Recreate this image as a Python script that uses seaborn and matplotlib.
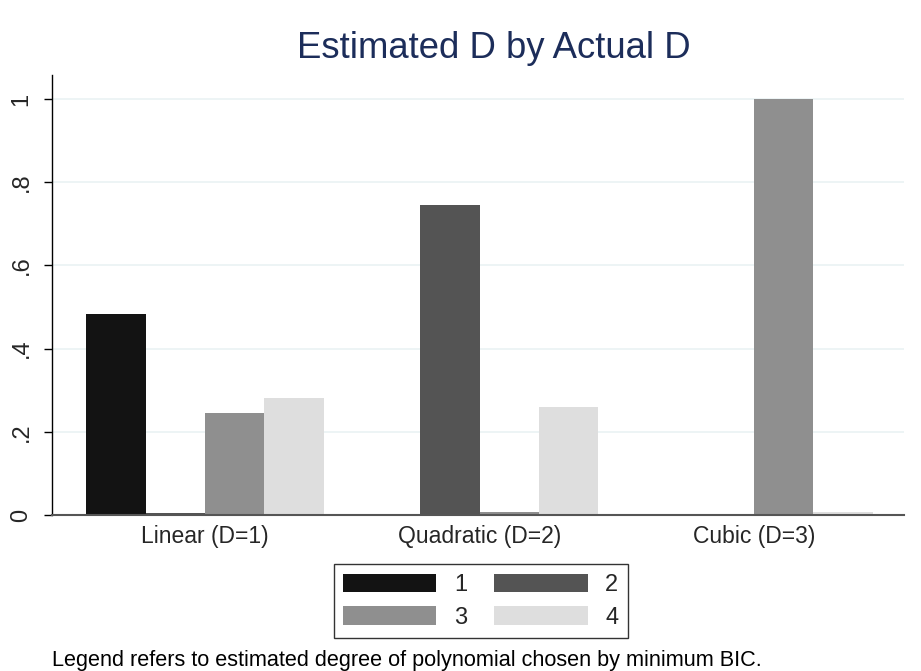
import matplotlib
matplotlib.use("Agg")
import matplotlib.pyplot as plt
import seaborn as sns
import pandas as pd
from matplotlib.patches import Patch

categories = ["Linear (D=1)", "Quadratic (D=2)", "Cubic (D=3)"]
est_degrees = ["1", "2", "3", "4"]
share_1 = [0.483, 0.0, 0.0]
share_2 = [0.004, 0.745, 0.0]
share_3 = [0.245, 0.006, 1.0]
share_4 = [0.281, 0.260, 0.006]
yticks = [0, 0.2, 0.4, 0.6, 0.8, 1.0]
ytick_labels = ["0", ".2", ".4", ".6", ".8", "1"]

rows = []
for deg, vals in zip(est_degrees, [share_1, share_2, share_3, share_4]):
    for cat, v in zip(categories, vals):
        rows.append({"actual": cat, "estimated": deg, "share": v})
df = pd.DataFrame(rows)

palette = {"1": "#131313", "2": "#545454", "3": "#8f8f8f", "4": "#dedede"}

sns.set_style("white")
plt.rcParams['font.family'] = ['Liberation Sans', 'DejaVu Sans']

fig = plt.figure(figsize=(9.21, 6.71), dpi=100)
ax = fig.add_axes([0.0565, 0.2325, 0.925, 0.656])

sns.barplot(data=df, x="actual", y="share", hue="estimated", order=categories,
            hue_order=est_degrees, palette=palette, width=0.865, gap=0,
            saturation=1, ax=ax, legend=False, edgecolor="none", linewidth=0)

ax.set_ylim(0, 1.058)
ax.set_xlim(-0.557, 2.546)
ax.set_yticks(yticks)
ax.set_yticklabels(ytick_labels, rotation=90, va="center", fontsize=17)
ax.tick_params(axis="y", length=6, width=1, color="black", left=True, pad=8)
ax.tick_params(axis="x", length=0, labelsize=16.5, pad=7)
for y in yticks[1:]:
    ax.axhline(y, color="#eaf2f3", lw=1.2, zorder=0)
ax.set_xlabel("")
ax.set_ylabel("")
for s in ["top", "right"]:
    ax.spines[s].set_visible(False)
ax.spines["left"].set_color("black")
ax.spines["left"].set_linewidth(1)
ax.spines["bottom"].set_color("#555555")
ax.spines["bottom"].set_linewidth(1.5)
ax.set_axisbelow(True)

ax.set_title("Estimated D by Actual D", fontsize=26.3, color="#1c2d5a", pad=12, x=0.518)

order = ["1", "3", "2", "4"]
handles = [Patch(facecolor=palette[d], edgecolor="none") for d in order]
leg = fig.legend(handles, order, loc="center", bbox_to_anchor=(0.522, 0.104),
                 ncol=2, fontsize=17, handlelength=3.95, handleheight=0.85,
                 columnspacing=1.15, handletextpad=0.75, labelspacing=0.42,
                 frameon=True, fancybox=False, borderpad=0.4)
leg.get_frame().set_edgecolor("black")
leg.get_frame().set_linewidth(1)

fig.text(0.0565, 0.0, "Legend refers to estimated degree of polynomial chosen by minimum BIC.",
         fontsize=15.6, color="black", ha="left", va="bottom")

fig.savefig("out.png", dpi=100, facecolor="white")
